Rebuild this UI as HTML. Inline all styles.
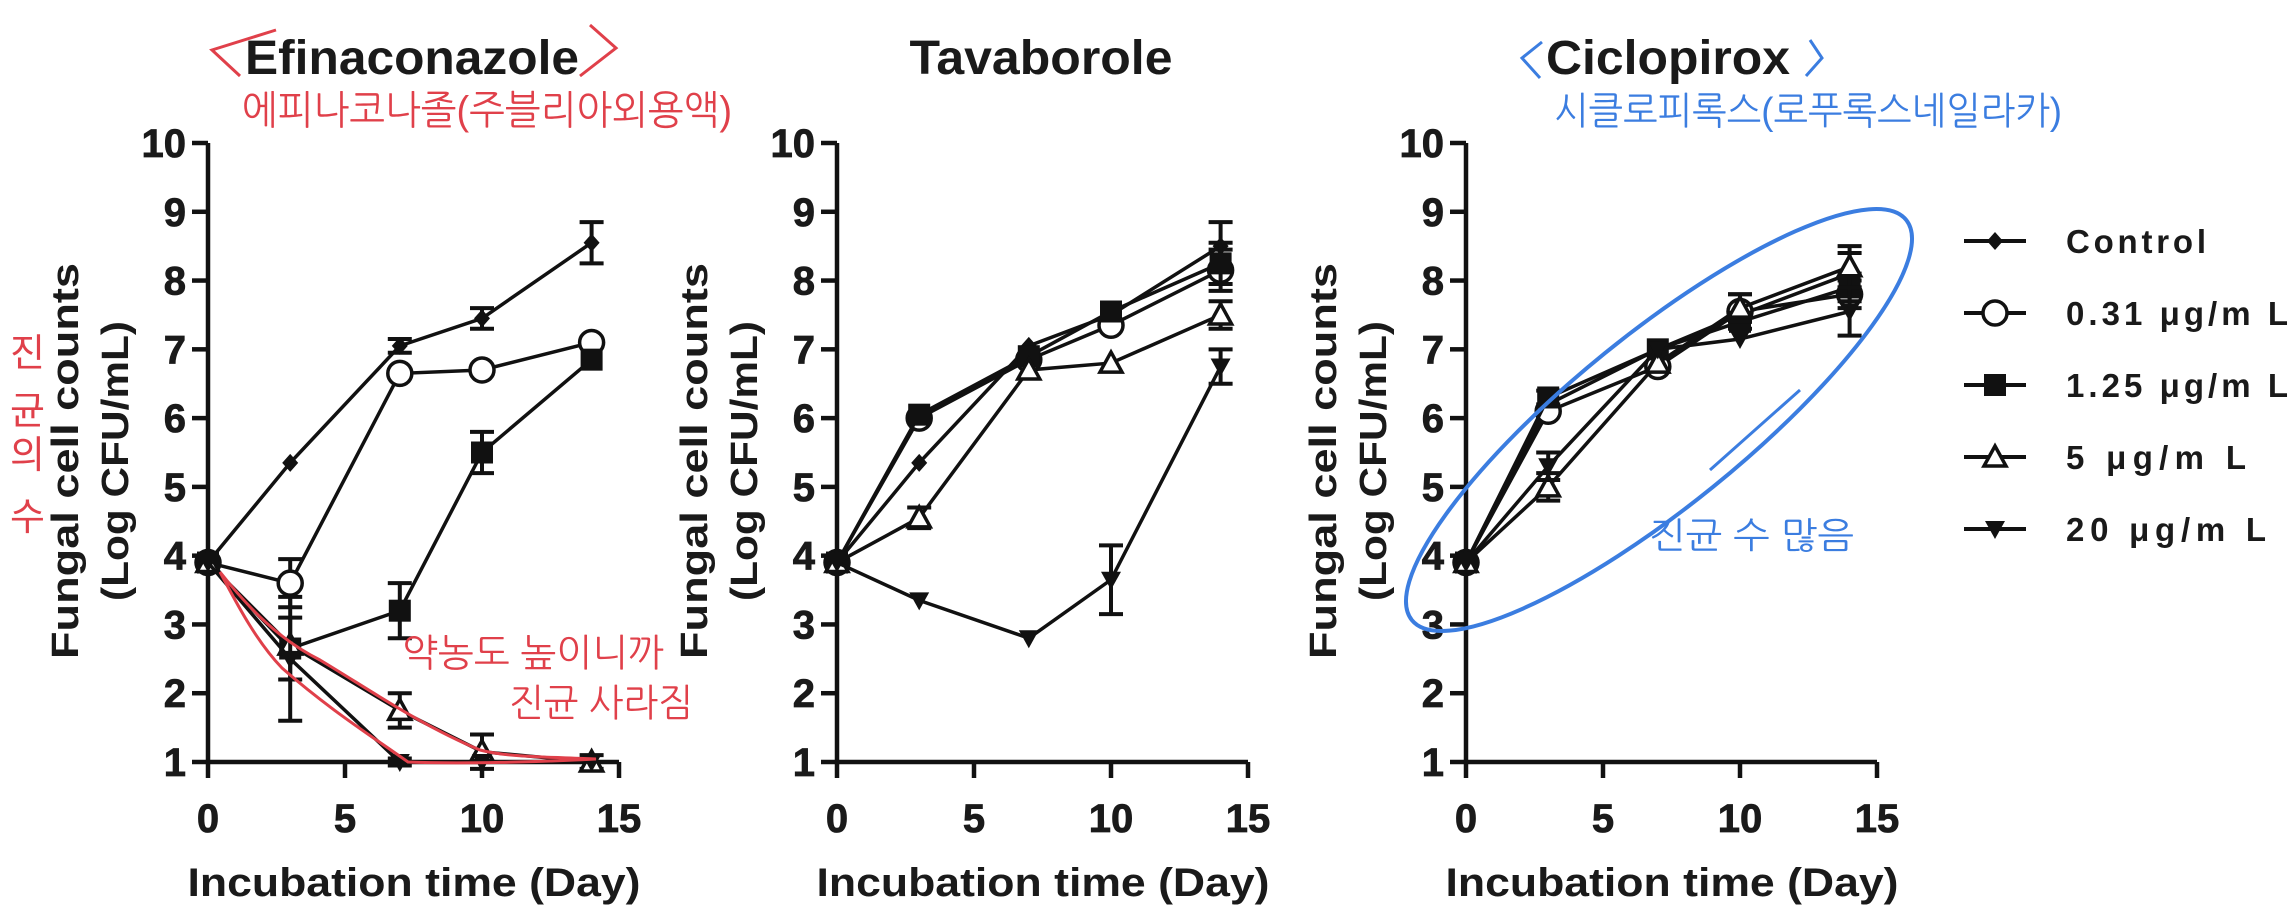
<!DOCTYPE html>
<html><head><meta charset="utf-8"><style>
html,body{margin:0;padding:0;background:#fff;}
svg{display:block;}
text{font-family:"Liberation Sans","Noto Sans CJK KR",sans-serif;}
.b{font-weight:bold;fill:#1a1a1a;}
.red{fill:#e0404a;font-family:"Liberation Sans","NanumGothic","Noto Sans CJK KR",sans-serif;}
.blue{fill:#3b7de0;font-family:"Liberation Sans","NanumGothic","Noto Sans CJK KR",sans-serif;}
</style></head><body>
<svg id="chart" width="2296" height="921" viewBox="0 0 2296 921" xmlns="http://www.w3.org/2000/svg">
<g id="plots"></g>
<g id="legend"></g>
<g id="annot">
  <text class="red" x="242" y="124" font-size="40" textLength="490" lengthAdjust="spacingAndGlyphs">에피나코나졸(주블리아외용액)</text>
  <path d="M276 30 L212 50 L240 76 M590 25 L616 48 L580 76" stroke="#e0404a" stroke-width="3" fill="none"/>
  <g class="red" font-size="38">
    <text x="10" y="366">진</text><text x="10" y="424">균</text><text x="10" y="468">의</text><text x="10" y="530">수</text>
  </g>
  <text class="red" x="402" y="666" font-size="38" textLength="262" lengthAdjust="spacingAndGlyphs">약농도 높이니까</text>
  <text class="red" x="509" y="716" font-size="38" textLength="184" lengthAdjust="spacingAndGlyphs">진균 사라짐</text>
  <path d="M220 572 C250 610 280 640 320 660 C370 690 420 725 480 750 C510 758 560 757 596 759 C540 762 460 764 408 762 C370 735 330 710 282 668 C255 640 235 600 220 572Z" stroke="#e0404a" stroke-width="3" fill="none"/>
  <text class="blue" x="1554" y="124" font-size="38" textLength="508" lengthAdjust="spacingAndGlyphs">시클로피록스(로푸록스네일라카)</text>
  <path d="M1542 42 L1522 58 L1540 78 M1810 40 L1822 58 L1806 76" stroke="#3b7de0" stroke-width="3" fill="none"/>
  <text class="blue" x="1649" y="548" font-size="36" textLength="205" lengthAdjust="spacingAndGlyphs">진균 수 많음</text>
  <ellipse cx="1659" cy="420" rx="318" ry="86" transform="rotate(-39 1659 420)" stroke="#3b7de0" stroke-width="4" fill="none"/>
  <path d="M1710 470 L1800 390" stroke="#3b7de0" stroke-width="3"/>
</g>
</svg>
<script>
const days = [0, 3, 7, 10, 14];
const seriesNames = ["Control", "0.31 μg/mL", "1.25 μg/mL", "5 μg/mL", "20 μg/mL"];
const legendLabels = ["Control", "0.31 μg/m L", "1.25 μg/m L", "5 μg/m L", "20 μg/m L"];
const markers = ["diamond", "circle", "square", "triangle", "tridown"];
const panelTitles = ["Efinaconazole", "Tavaborole", "Ciclopirox"];
const xTicks = [0, 5, 10, 15];
const yTicks = [1, 2, 3, 4, 5, 6, 7, 8, 9, 10];
// Efinaconazole
const efControl = [3.9, 5.35, 7.05, 7.45, 8.55];
const efLow = [3.9, 3.6, 6.65, 6.7, 7.1];
const efMid = [3.9, 2.65, 3.2, 5.5, 6.85];
const efHigh = [3.9, 2.7, 1.75, 1.15, 1.0];
const efMax = [3.9, 2.5, 1.0, 1.0, 1.0];
const efErr = [[0,0,0.1,0.15,0.3],[0,0.35,0,0,0],[0,0.45,0.4,0.3,0],[0,0,0.25,0.25,0.1],[0,0.9,0.05,0,0]];
// Tavaborole
const tvControl = [3.9, 5.35, 7.05, 7.5, 8.5];
const tvLow = [3.9, 6.0, 6.85, 7.35, 8.15];
const tvMid = [3.9, 6.05, 6.9, 7.55, 8.25];
const tvHigh = [3.9, 4.55, 6.7, 6.8, 7.5];
const tvMax = [3.9, 3.35, 2.8, 3.65, 6.75];
const tvErr = [[0,0,0,0,0.35],[0,0,0,0,0.3],[0,0,0,0,0.3],[0,0.15,0,0,0.2],[0,0,0,0.5,0.25]];
// Ciclopirox
const cpControl = [3.9, 6.2, 7.0, 7.5, 8.1];
const cpLow = [3.9, 6.1, 6.75, 7.55, 7.8];
const cpMid = [3.9, 6.3, 7.0, 7.4, 7.9];
const cpHigh = [3.9, 5.0, 6.8, 7.6, 8.2];
const cpMax = [3.9, 5.3, 7.0, 7.15, 7.55];
const cpErr = [[0,0,0,0,0.3],[0,0,0,0.25,0.2],[0,0.1,0,0,0.2],[0,0.2,0,0.2,0.3],[0,0.2,0,0,0.35]];

const panels = [
  {x0:208, data:[efControl, efLow, efMid, efHigh, efMax], err:efErr, tx:412, tl:334},
  {x0:837, data:[tvControl, tvLow, tvMid, tvHigh, tvMax], err:tvErr, tx:1041, tl:263},
  {x0:1466, data:[cpControl, cpLow, cpMid, cpHigh, cpMax], err:cpErr, tx:1668, tl:244}
];
const NS = "http://www.w3.org/2000/svg";
const W = 411, yTop = 143, yBot = 762;
function mk(tag, attrs, parent){const e=document.createElementNS(NS,tag);for(const k in attrs)e.setAttribute(k,attrs[k]);parent.appendChild(e);return e;}
function marker(type, cx, cy, g){
  let e;
  if(type==="diamond"){e=mk("path",{d:`M${cx} ${cy-9}L${cx+8} ${cy}L${cx} ${cy+9}L${cx-8} ${cy}Z`,fill:"#111"},g);}
  else if(type==="circle"){e=mk("circle",{cx:cx,cy:cy,r:12,fill:"#fff",stroke:"#111","stroke-width":3.5},g);}
  else if(type==="square"){e=mk("rect",{x:cx-11,y:cy-11,width:22,height:22,fill:"#111"},g);}
  else if(type==="triangle"){e=mk("path",{d:`M${cx} ${cy-11}L${cx+11} ${cy+9}L${cx-11} ${cy+9}Z`,fill:"#fff",stroke:"#111","stroke-width":3.5},g);}
  else {e=mk("path",{d:`M${cx-10} ${cy-8}L${cx+10} ${cy-8}L${cx} ${cy+10}Z`,fill:"#111"},g);}
  return e;
}
const plots = document.getElementById("plots");
panels.forEach((p, pi) => {
  const g = mk("g", {}, plots);
  
  
  const xs = d => p.x0 + d / 15 * W;
  const ys = v => yBot - (v - 1) / 9 * (yBot - yTop);
  const ax = mk("path", {d:`M${p.x0} ${yTop}V${yBot}H${p.x0+W}`, stroke:"#111", "stroke-width":4.5, fill:"none"}, g);
  
  
  yTicks.forEach(v => {
    mk("line", {x1:p.x0-16, x2:p.x0, y1:ys(v), y2:ys(v), stroke:"#111", "stroke-width":4.5}, g);
    const t = mk("text", {x:p.x0-22, y:ys(v)+14, "text-anchor":"end", "font-size":40, class:"b", stroke:"#1a1a1a", "stroke-width":0.8}, g);
    t.textContent = v;
    
    
  });
  xTicks.forEach(v => {
    mk("line", {x1:xs(v), x2:xs(v), y1:yBot, y2:yBot+16, stroke:"#111", "stroke-width":4.5}, g);
    const t = mk("text", {x:xs(v), y:832, "text-anchor":"middle", "font-size":40, class:"b", stroke:"#1a1a1a", "stroke-width":0.8}, g);
    t.textContent = v;
    
    
  });
  const xt = mk("text", {x:p.x0+W/2 - 226, y:896, "font-size":40, class:"b", textLength:453, lengthAdjust:"spacingAndGlyphs"}, g);
  xt.textContent = "Incubation time (Day)";
  
  
  const yt = mk("text", {transform:`translate(${p.x0-130},${461+198}) rotate(-90)`, "font-size":38, class:"b", textLength:396, lengthAdjust:"spacingAndGlyphs"}, g);
  yt.textContent = "Fungal cell counts";
  
  
  const yt2 = mk("text", {transform:`translate(${p.x0-80},${461+140}) rotate(-90)`, "font-size":38, class:"b", textLength:280, lengthAdjust:"spacingAndGlyphs"}, g);
  yt2.textContent = "(Log CFU/mL)";
  
  
  const tt = mk("text", {x:p.tx - p.tl/2, y:74, "font-size":48, class:"b", textLength:p.tl, lengthAdjust:"spacingAndGlyphs"}, g);
  tt.textContent = panelTitles[pi];
  
  
  p.data.forEach((vals, si) => {
    const sg = mk("g", {}, g);
    
    
    const pts = vals.map((v, i) => xs(days[i]) + "," + ys(v)).join(" ");
    mk("polyline", {points:pts, fill:"none", stroke:"#111", "stroke-width":3.5}, sg);
    vals.forEach((v, i) => {
      const e = p.err[si][i];
      if (e > 0) {
        const cx = xs(days[i]);
        mk("path", {d:`M${cx} ${ys(v+e)}V${ys(v-e)}M${cx-12} ${ys(v+e)}H${cx+12}M${cx-12} ${ys(v-e)}H${cx+12}`, stroke:"#111", "stroke-width":4, fill:"none"}, sg);
      }
    });
    vals.forEach((v, i) => {
      const m = marker(markers[si], xs(days[i]), ys(v), sg);
      
      
    });
  });
});
const lg = document.getElementById("legend");
const legendWidths = [140, 222, 222, 180, 200];
legendLabels.forEach((lab, i) => {
  const y = 241 + i * 72;
  const eg = mk("g", {}, lg);
  
  
  mk("line", {x1:1964, x2:2026, y1:y, y2:y, stroke:"#111", "stroke-width":4}, eg);
  marker(markers[i], 1995, y, eg);
  const t = mk("text", {x:2066, y:y+12, "font-size":33, class:"b", textLength:legendWidths[i], lengthAdjust:"spacing"}, eg);
  t.textContent = lab;
});
</script>
</body></html>
